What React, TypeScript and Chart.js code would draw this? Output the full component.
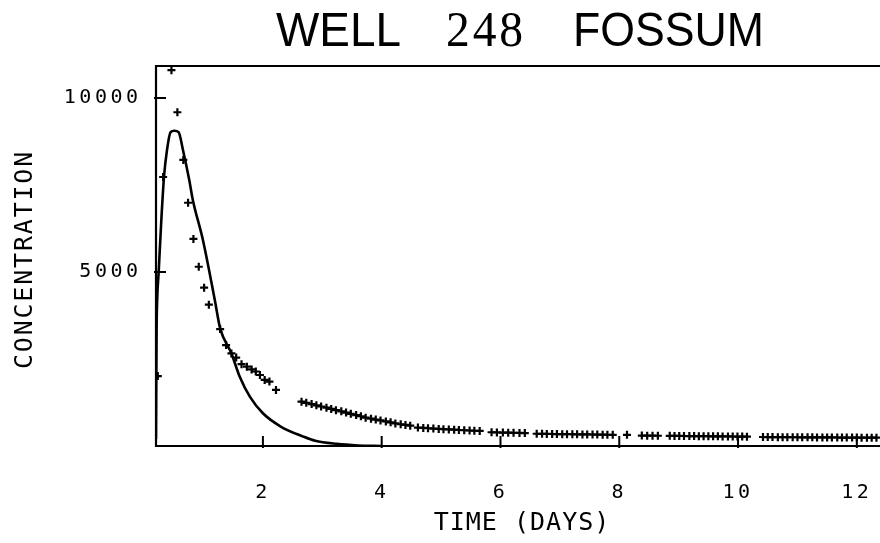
import React, { useEffect, useRef } from "react";
import { Chart, registerables } from "chart.js";

Chart.register(...registerables);

// Observed concentrations (crosses)
const obsDays = [
  0.23, 0.32, 0.46, 0.56, 0.66, 0.74, 0.83, 0.92, 1.01, 1.09, 1.28, 1.38, 1.47, 1.55, 1.64, 1.73, 1.81, 1.88, 1.95, 2.03, 2.11, 2.22,
  2.65, 2.73, 2.82, 2.9, 2.98, 3.07, 3.15, 3.23, 3.32, 3.4, 3.48, 3.57, 3.65, 3.73, 3.82, 3.9, 3.98, 4.07, 4.15, 4.23, 4.32, 4.4, 4.48,
  4.61, 4.7, 4.78, 4.87, 4.96, 5.04, 5.13, 5.22, 5.3, 5.39, 5.48, 5.56, 5.65,
  5.85, 5.94, 6.04, 6.13, 6.22, 6.32, 6.41,
  6.61, 6.7, 6.78, 6.87, 6.95, 7.04, 7.12, 7.21, 7.29, 7.38, 7.46, 7.55, 7.63, 7.72, 7.8, 7.89,
  8.13,
  8.38, 8.47, 8.56, 8.65,
  8.85, 8.93, 9.01, 9.09, 9.18, 9.26, 9.34, 9.42, 9.5, 9.58, 9.66, 9.74, 9.83, 9.91, 9.99, 10.07, 10.15,
  10.42, 10.5, 10.58, 10.67, 10.75, 10.83, 10.92, 11.0, 11.08, 11.17, 11.25, 11.33, 11.42, 11.5, 11.58, 11.67, 11.75, 11.83, 11.92, 12.0, 12.08, 12.17, 12.25, 12.33,
];
const obsConc = [
  2010, 7730, 10800, 9590, 8220, 6990, 5950, 5150, 4550, 4060, 3360, 2900, 2660, 2540, 2350, 2280, 2200, 2140, 2040, 1900, 1850, 1610,
  1275, 1240, 1205, 1170, 1135, 1100, 1065, 1030, 995, 960, 925, 890, 855, 815, 785, 760, 735, 705, 680, 650, 625, 605, 585,
  530, 520, 510, 500, 492, 484, 476, 468, 460, 452, 445, 438, 432,
  395, 390, 386, 382, 378, 375, 372,
  352, 349, 348, 345, 344, 341, 340, 337, 336, 333, 332, 330, 327, 326, 323, 322,
  320,
  300, 298, 296, 294,
  292, 290, 289, 287, 286, 284, 283, 281, 280, 278, 277, 276, 274, 273, 272, 270, 269,
  258, 257, 256, 255, 254, 253, 252, 251, 250, 249, 248, 247, 246, 246, 245, 244, 243, 242, 242, 241, 240, 240, 239, 238,
];

// Fitted model curve (solid line)
const fitDays = [0.2, 0.21, 0.22, 0.245, 0.29, 0.335, 0.385, 0.445, 0.51, 0.58, 0.655, 0.76, 0.82, 0.99, 1.19, 1.28, 1.47, 1.61, 1.78, 2.0, 2.3, 2.68, 2.88, 3.24, 3.6, 4.0];
const fitConc = [200, 3300, 4200, 5000, 6500, 7740, 8500, 9020, 9060, 9020, 8500, 7640, 7070, 5920, 4195, 3380, 2660, 1990, 1420, 940, 560, 270, 150, 60, 15, 0];

const xTickValues = [2, 4, 6, 8, 10, 12];
const yTickValues = [5000, 10000];
const xRange = [0.2, 12.39];
const yRange = [0, 10890];

const titleWell = "WELL";
const titleNumber = "248";
const titleName = "FOSSUM";
const xAxisTitle = "TIME (DAYS)";
const yAxisTitle = "CONCENTRATION";

const MONO = '"DejaVu Sans Mono"';

export default function App() {
  const ref = useRef<HTMLCanvasElement>(null);

  useEffect(() => {
    const canvas = ref.current;
    if (!canvas) return;

    const framePlugin = {
      id: "frame",
      beforeDraw(chart: any) {
        chart.ctx.letterSpacing = "3.5px";
      },
      afterDraw(chart: any) {
        const { ctx, chartArea, scales } = chart;
        const { left, right, top, bottom } = chartArea;
        ctx.save();
        ctx.letterSpacing = "0px";
        ctx.strokeStyle = "#000";
        ctx.fillStyle = "#000";
        ctx.lineCap = "butt";

        // axes frame
        ctx.lineWidth = 2.2;
        ctx.beginPath();
        ctx.moveTo(right + 2, top - 1);
        ctx.lineTo(left, top - 1);
        ctx.lineTo(left, bottom);
        ctx.lineTo(right + 2, bottom);
        ctx.stroke();

        // inward tick marks
        ctx.lineWidth = 2;
        ctx.beginPath();
        xTickValues.forEach((v) => {
          const px = scales.x.getPixelForValue(v);
          ctx.moveTo(px, bottom + 2);
          ctx.lineTo(px, bottom - 10);
        });
        yTickValues.forEach((v) => {
          const py = scales.y.getPixelForValue(v);
          ctx.moveTo(left - 2, py);
          ctx.lineTo(left + 10, py);
        });
        ctx.stroke();

        // axis titles
        ctx.font = `25px ${MONO}`;
        ctx.textAlign = "center";
        ctx.textBaseline = "middle";
        ctx.letterSpacing = "1px";
        ctx.fillText(xAxisTitle, 522, 523);
        ctx.save();
        ctx.letterSpacing = "1.8px";
        ctx.translate(25, (top + bottom) / 2 + 3);
        ctx.rotate(-Math.PI / 2);
        ctx.fillText(yAxisTitle, 0, 0);
        ctx.restore();

        // title in mixed fonts
        ctx.letterSpacing = "0px";
        ctx.textAlign = "left";
        ctx.textBaseline = "alphabetic";
        const baseline = 46;
        const piece = (text: string, font: string, x: number, targetW: number) => {
          ctx.font = font;
          const w = ctx.measureText(text).width;
          ctx.save();
          ctx.translate(x, baseline);
          ctx.scale(targetW / w, 1);
          ctx.fillText(text, 0, 0);
          ctx.restore();
        };
        piece(titleWell, '49px "Liberation Sans"', 276, 125);
        ctx.letterSpacing = "3px";
        piece(titleNumber, '50px "Liberation Serif"', 446, 80);
        ctx.letterSpacing = "0px";
        piece(titleName, '49px "Liberation Sans"', 573, 191);

        ctx.restore();
      },
    };

    const chart = new Chart(canvas, {
      type: "scatter",
      data: {
        datasets: [
          {
            type: "line",
            label: "model",
            data: fitDays.map((d, i) => ({ x: d, y: fitConc[i] })),
            borderColor: "#000",
            borderWidth: 2.6,
            pointRadius: 0,
            fill: false,
            cubicInterpolationMode: "monotone",
          } as any,
          {
            label: "observed",
            data: obsDays.map((d, i) => ({ x: d, y: obsConc[i] })),
            pointStyle: "cross",
            pointRadius: 4,
            pointBorderWidth: 2.2,
            borderColor: "#000",
            backgroundColor: "#000",
            showLine: false,
          } as any,
        ],
      },
      options: {
        animation: false,
        responsive: true,
        maintainAspectRatio: false,
        layout: { autoPadding: false, padding: { top: 67, right: 0, bottom: 0, left: 0 } },
        plugins: {
          legend: { display: false },
          tooltip: { enabled: false },
          title: { display: false },
        },
        scales: {
          x: {
            type: "linear",
            min: xRange[0],
            max: xRange[1],
            grid: { display: false, drawTicks: false },
            border: { display: false },
            ticks: {
              padding: 35,
              color: "#000",
              font: { family: MONO, size: 20 },
              maxRotation: 0,
              autoSkip: false,
              callback: (v: any) => String(v),
            },
            afterBuildTicks: (s: any) => {
              s.ticks = xTickValues.map((v) => ({ value: v }));
            },
            afterFit: (s: any) => {
              s.height = 97;
              s.paddingLeft = 0;
              s.paddingRight = 0;
            },
          },
          y: {
            type: "linear",
            min: yRange[0],
            max: yRange[1],
            grid: { display: false, drawTicks: false },
            border: { display: false },
            ticks: {
              padding: 14.5,
              color: "#000",
              font: { family: MONO, size: 20 },
              autoSkip: false,
              callback: (v: any) => String(v),
            },
            afterBuildTicks: (s: any) => {
              s.ticks = yTickValues.map((v) => ({ value: v }));
            },
            afterFit: (s: any) => {
              s.width = 156;
              s.paddingTop = 0;
              s.paddingBottom = 0;
            },
          },
        },
      } as any,
      plugins: [framePlugin],
    });

    return () => chart.destroy();
  }, []);

  return (
    <div style={{ position: "fixed", left: 0, top: 0, width: 880, height: 543, background: "#fff" }}>
      <canvas ref={ref} />
    </div>
  );
}
